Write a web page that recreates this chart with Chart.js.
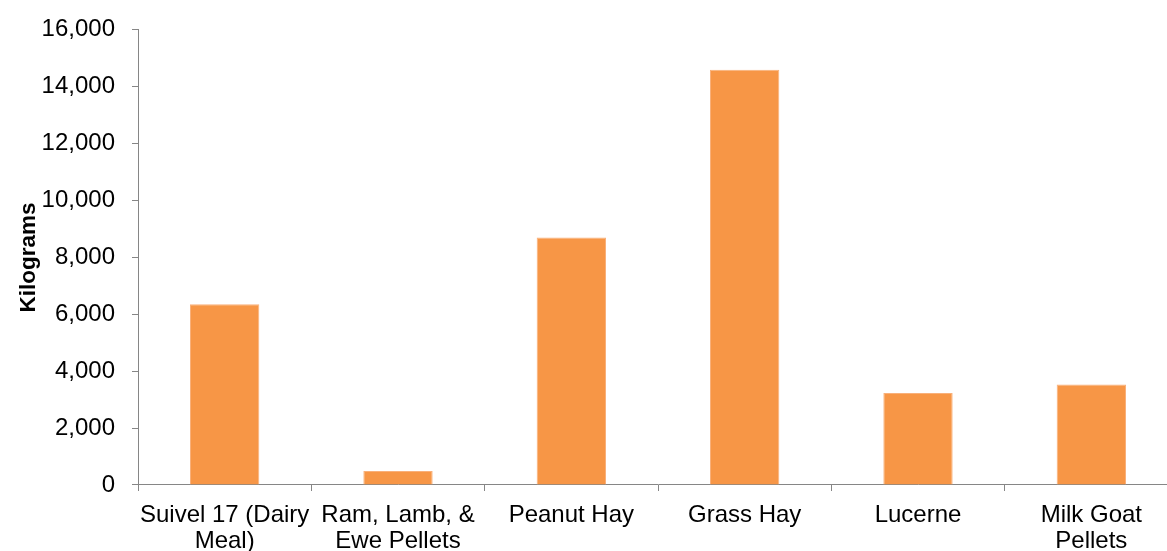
<!DOCTYPE html>
<html>
<head>
<meta charset="utf-8">
<script src="https://cdn.jsdelivr.net/npm/chart.js@4/dist/chart.umd.min.js"></script>
<style>
  html, body { margin: 0; padding: 0; background: #fff; overflow: hidden; }
  #wrap { position: relative; width: 1180px; height: 551px; }
</style>
</head>
<body>
<div id="wrap"><canvas id="chart"></canvas></div>
<script>
// Feed stock on hand, in kilograms
const categories = [
  ["Suivel 17 (Dairy", "Meal)"],
  ["Ram, Lamb, &", "Ewe Pellets"],
  "Peanut Hay",
  "Grass Hay",
  "Lucerne",
  ["Milk Goat", "Pellets"]
];
const kilograms = [6350, 490, 8700, 14600, 3230, 3530];
const yTicks = [0, 2000, 4000, 6000, 8000, 10000, 12000, 14000, 16000];

const axisGrey = '#868686';
const family = '"Liberation Sans", Arial, sans-serif';
const tickFont = { family: family, size: 24, lineHeight: 1.07 };

new Chart(document.getElementById('chart'), {
  type: 'bar',
  data: {
    labels: categories,
    datasets: [{
      label: 'Kilograms',
      data: kilograms,
      backgroundColor: '#F79646',
      borderColor: '#F9B07A',
      borderWidth: 1,
      barPercentage: 0.4,
      categoryPercentage: 1
    }]
  },
  options: {
    responsive: true,
    maintainAspectRatio: false,
    animation: false,
    layout: { padding: { top: 28, right: 2, left: 15, bottom: 0 } },
    plugins: { legend: { display: false }, tooltip: { enabled: false } },
    scales: {
      x: {
        offset: true,
        afterFit: (scale) => { scale.height = 66; },
        grid: { display: true, drawOnChartArea: false, drawTicks: true, tickLength: 6, color: axisGrey, offset: true },
        border: { display: true, color: axisGrey, width: 1 },
        ticks: { color: '#000', font: tickFont, padding: 12, maxRotation: 0, autoSkip: false }
      },
      y: {
        min: 0,
        max: 16000,
        afterFit: (scale) => { scale.width = 123; },
        afterBuildTicks: (axis) => { axis.ticks = yTicks.map(v => ({ value: v })); },
        grid: { display: true, drawOnChartArea: false, drawTicks: true, tickLength: 6, color: axisGrey },
        border: { display: true, color: axisGrey, width: 1 },
        ticks: { color: '#000', font: tickFont, padding: 17, callback: (v) => v.toLocaleString('en-US') },
        title: {
          display: true,
          text: 'Kilograms',
          color: '#000',
          font: { family: family, size: 22.5, weight: 'bold' },
          padding: { top: 0, bottom: 2 }
        }
      }
    }
  }
});
</script>
</body>
</html>
